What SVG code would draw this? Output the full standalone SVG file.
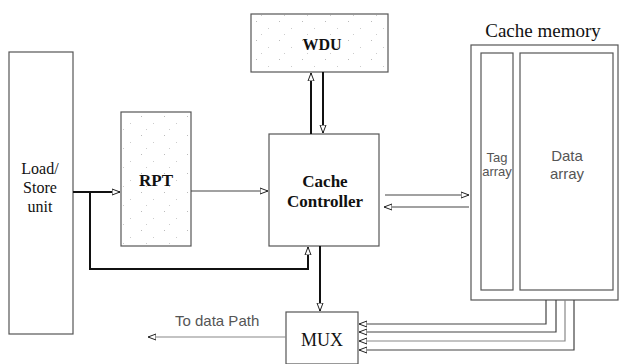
<svg xmlns="http://www.w3.org/2000/svg" width="621" height="364" viewBox="0 0 621 364">
<style>
.box{fill:#fff;stroke:#555;stroke-width:1.2}
.dot{fill:url(#stip);stroke:#555;stroke-width:1.2}
.ser,.ser tspan{font-family:"Liberation Serif","Times New Roman",serif;fill:#111}
.san,.san tspan{font-family:"Liberation Sans",Arial,sans-serif;fill:#555}
.thick{fill:none;stroke:#111;stroke-width:2}
.thin{fill:none;stroke:#444;stroke-width:1.2}
.gray{fill:none;stroke:#888;stroke-width:1.2}
</style>
<defs>
<pattern id="stip" width="23" height="19" patternUnits="userSpaceOnUse">
<rect width="23" height="19" fill="#fff"/>
<rect x="3" y="2" width="1" height="1" fill="#bbb"/>
<rect x="15" y="9" width="1" height="1" fill="#ccc"/>
<rect x="8" y="15" width="1" height="1" fill="#ccc"/>
</pattern>
<marker id="ah" viewBox="0 0 8 8" refX="8" refY="4" markerWidth="8" markerHeight="8" markerUnits="userSpaceOnUse" orient="auto">
<path d="M0,1 L8,4 L0,7 Z" fill="#fff" stroke="#222" stroke-width="1"/>
</marker>
</defs>
<g id="loadstore"><rect class="box" x="9" y="52" width="64" height="282"/>
<text class="ser" font-family="Liberation Serif, serif" font-size="16" x="40" y="174" text-anchor="middle">Load/</text>
<text class="ser" font-family="Liberation Serif, serif" font-size="16" x="40" y="193" text-anchor="middle">Store</text>
<text class="ser" font-family="Liberation Serif, serif" font-size="16" x="40" y="212" text-anchor="middle">unit</text></g>
<g id="rpt"><rect class="dot" x="121" y="112" width="70" height="134"/>
<text class="ser" font-size="17" font-weight="bold" x="156" y="186" text-anchor="middle">RPT</text></g>
<g id="wdu"><rect class="dot" x="251" y="14" width="137" height="58"/>
<text class="ser" font-size="16" font-weight="bold" x="322" y="50" text-anchor="middle">WDU</text></g>
<g id="controller"><rect class="box" x="269" y="134" width="110" height="112"/>
<text class="ser" font-family="Liberation Serif, serif" font-size="17" font-weight="bold" x="325" y="187" text-anchor="middle">Cache</text>
<text class="ser" font-family="Liberation Serif, serif" font-size="17" font-weight="bold" x="325" y="207" text-anchor="middle">Controller</text></g>
<g id="cachememory"><text class="ser" font-size="19" x="543" y="37" text-anchor="middle">Cache memory</text>
<rect class="box" x="471" y="45" width="147" height="255"/>
<rect class="box" x="481" y="53" width="32" height="237"/>
<rect class="box" x="520" y="53" width="93" height="237"/>
<text class="san" font-size="13" x="497" y="162" text-anchor="middle">Tag</text>
<text class="san" font-size="13" x="497" y="176" text-anchor="middle">array</text>
<text class="san" font-size="15" x="567" y="161" text-anchor="middle">Data</text>
<text class="san" font-size="15" x="567" y="179" text-anchor="middle">array</text></g>
<g id="mux"><rect class="box" x="286" y="312" width="72" height="52"/>
<text class="ser" font-size="18" x="322" y="346" text-anchor="middle">MUX</text></g>
<text class="san" font-size="15" x="175" y="326">To data Path</text>
<g id="connectors">
<line class="thick" x1="73" y1="192" x2="120" y2="192" marker-end="url(#ah)"/>
<polyline class="thick" points="90,192 90,269 308,269 308,247" marker-end="url(#ah)"/>
<line class="thin" x1="191" y1="191" x2="268" y2="191" marker-end="url(#ah)"/>
<line class="thick" x1="311" y1="134" x2="311" y2="73" marker-end="url(#ah)"/>
<line class="thick" x1="323" y1="72" x2="323" y2="133" marker-end="url(#ah)"/>
<line class="thin" x1="385" y1="195" x2="469" y2="195" marker-end="url(#ah)"/>
<line class="thin" x1="469" y1="207" x2="384" y2="207" marker-end="url(#ah)"/>
<line class="thick" x1="320" y1="246" x2="320" y2="311" marker-end="url(#ah)"/>
<line class="gray" x1="286" y1="337" x2="148" y2="337" marker-end="url(#ah)"/>
<polyline class="thin" points="546,300 546,324 359,324" marker-end="url(#ah)"/>
<polyline class="thin" points="556,300 556,332 359,332" marker-end="url(#ah)"/>
<polyline class="gray" points="565,300 565,341 359,341" marker-end="url(#ah)"/>
<polyline class="thin" points="574,300 574,350 359,350" marker-end="url(#ah)"/>
</g>
</svg>
